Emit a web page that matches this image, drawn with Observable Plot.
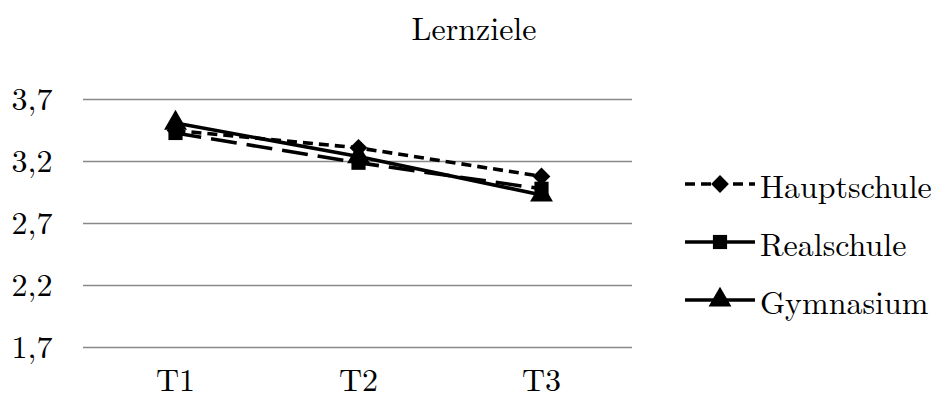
<!DOCTYPE html>
<html>
<head>
<meta charset="utf-8">
<script src="https://cdn.jsdelivr.net/npm/d3@7"></script>
<script src="https://cdn.jsdelivr.net/npm/@observablehq/plot@0.6"></script>
<style>
  html, body { margin: 0; padding: 0; background: #fff; }
  #chart { position: relative; width: 937px; height: 405px; overflow: hidden; }
  #chart > * { position: absolute; left: 0; top: 0; }
</style>
</head>
<body>
<div id="chart"></div>
<script>
// Survey waves and mean ratings per school type
const times = ["T1", "T2", "T3"];
const hauptschule = [3.45, 3.31, 3.08];
const realschule = [3.43, 3.19, 2.98];
const gymnasium = [3.51, 3.24, 2.93];
const yTicks = [1.7, 2.2, 2.7, 3.2, 3.7];
const title = "Lernziele";

const FONT = "Latin Modern Roman";
const FONT_SIZE = 32;

const series = [
  {name: "Hauptschule", values: hauptschule, dash: "10,6", legendDash: "10,6", symbol: "diamond2", r: 8},
  {name: "Realschule", values: realschule, dash: "26,10", legendDash: null, symbol: "square", r: 8},
  {name: "Gymnasium", values: gymnasium, dash: null, legendDash: null, symbol: "triangle", r: 8.5}
];

const rows = series.map(s => times.map((t, i) => ({t, v: s.values[i], school: s.name})));

const marks = [
  Plot.ruleY(yTicks, {stroke: "#898989", strokeWidth: 1.6}),
  Plot.axisY(yTicks, {tickSize: 0, tickPadding: 31, tickFormat: d => d.toFixed(1).replace(".", ","), fill: "#000", fontFamily: FONT, label: null}),
  Plot.axisX({tickSize: 0, tickPadding: 21, fill: "#000", fontFamily: FONT, label: null})
];
series.forEach((s, k) => {
  marks.push(Plot.line(rows[k], {x: "t", y: "v", stroke: "#000", strokeWidth: 3.6, strokeDasharray: s.dash, strokeLinecap: "butt"}));
});
series.forEach((s, k) => {
  marks.push(Plot.dot(rows[k], {x: "t", y: "v", symbol: () => s.symbol, r: s.r, fill: "#000", stroke: "none"}));
});

const plot = Plot.plot({
  width: 660,
  height: 405,
  marginTop: 99,
  marginBottom: 58,
  marginLeft: 83,
  marginRight: 28,
  style: {fontFamily: FONT, fontSize: FONT_SIZE + "px", background: "transparent", overflow: "visible"},
  x: {type: "point", domain: times, padding: 0.5, axis: null},
  y: {domain: [1.7, 3.7], axis: null},
  marks
});
const chart = document.getElementById("chart");
chart.appendChild(plot);

// Title and legend overlay
const svg = d3.select(chart).append("svg")
  .attr("width", 937).attr("height", 405)
  .style("pointer-events", "none");

svg.append("text")
  .attr("x", 474).attr("y", 40)
  .attr("text-anchor", "middle")
  .attr("font-family", FONT)
  .attr("font-size", FONT_SIZE)
  .attr("fill", "#000")
  .text(title);

const symbolTypes = {diamond2: d3.symbolDiamond2, square: d3.symbolSquare, triangle: d3.symbolTriangle};
const legendY = [184, 242, 300];
series.forEach((s, k) => {
  const g = svg.append("g").attr("transform", `translate(0,${legendY[k]})`);
  g.append("line")
    .attr("x1", 685).attr("x2", 755).attr("y1", 0).attr("y2", 0)
    .attr("stroke", "#000").attr("stroke-width", 3.6)
    .attr("stroke-dasharray", s.legendDash);
  g.append("path")
    .attr("transform", "translate(720,0)")
    .attr("d", d3.symbol(symbolTypes[s.symbol], Math.PI * s.r * s.r)())
    .attr("fill", "#000");
  g.append("text")
    .attr("x", 760).attr("y", 14)
    .attr("font-family", FONT)
    .attr("font-size", FONT_SIZE)
    .attr("fill", "#000")
    .text(s.name);
});
</script>
</body>
</html>
